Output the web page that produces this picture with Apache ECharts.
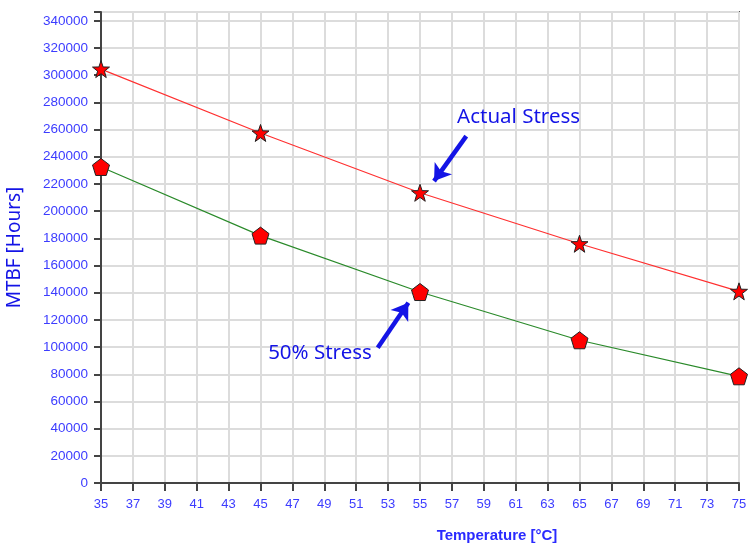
<!DOCTYPE html>
<html lang="en">
<head>
    <meta charset="UTF-8">
    <title>MTBF vs temperature</title>
</head>
<script src="https://cdn.jsdelivr.net/npm/echarts@6/dist/echarts.min.js"></script>
<body style="margin:0">
<div id="main" style="width:752px;height:545px"></div>
<script>
    // data
    var temps = [35, 45, 55, 65, 75];
    var actualStress = [304500, 257500, 213500, 176000, 141000];
    var halfStress = [232500, 182000, 140500, 105000, 78500];

    var starPath = 'path://M10 0 L12.35 6.76 L19.51 6.91 L13.80 11.24 L15.88 18.09 L10 14 L4.12 18.09 L6.20 11.24 L0.49 6.91 L7.65 6.76 Z';
    var pentPath = 'path://M10 0 L19.51 6.91 L15.88 18.09 L4.12 18.09 L0.49 6.91 Z';

    function pairs(xs, ys) {
        return xs.map(function (x, i) { return [x, ys[i]]; });
    }

    var blue = '#1414e6';
    var tickBlue = '#3c3cff';

    var myChart = echarts.init(document.getElementById('main'));
    myChart.setOption({
        animation: false,
        grid: {
            left: 101, right: 13, top: 12, bottom: 62,
            outerBoundsMode: 'none',
            containLabel: false,
            show: true, borderColor: '#555', borderWidth: 2
        },
        xAxis: {
            type: 'value',
            min: 35, max: 75, interval: 2,
            name: 'Temperature [°C]',
            nameLocation: 'middle',
            nameGap: 45,
            nameTextStyle: {
                color: '#2a2aff', fontFamily: 'Liberation Sans', fontWeight: 'bold',
                fontSize: 15, padding: [0, 0, 0, 154]
            },
            axisLine: { lineStyle: { color: '#444', width: 2 } },
            axisTick: { length: 8, lineStyle: { color: '#444', width: 2 } },
            axisLabel: { color: tickBlue, fontFamily: 'Liberation Sans', fontSize: 13, margin: 15 },
            splitLine: { lineStyle: { color: '#dcdcdc', width: 2 } }
        },
        yAxis: {
            type: 'value',
            min: 0, max: 346500, interval: 20000,
            name: 'MTBF [Hours]',
            nameLocation: 'middle',
            nameGap: 77,
            nameTextStyle: { color: blue, fontFamily: 'Noto Sans', fontSize: 19 },
            axisLine: { show: true, lineStyle: { color: '#444', width: 2 } },
            axisTick: { show: true, length: 7, lineStyle: { color: '#444', width: 2 } },
            axisLabel: {
                color: tickBlue, fontFamily: 'Liberation Sans', fontSize: 13.5, margin: 13,
                formatter: function (v) { return v % 20000 === 0 ? String(v) : ''; }
            },
            splitLine: { lineStyle: { color: '#dcdcdc', width: 2 } }
        },
        series: [{
            name: 'Actual Stress',
            type: 'line',
            data: pairs(temps, actualStress),
            symbol: starPath,
            symbolSize: 17,
            itemStyle: { color: '#ff0000', borderColor: '#222', borderWidth: 1 },
            lineStyle: { color: '#ff3030', width: 1.2 },
            z: 3,
            markPoint: {
                symbol: 'circle', symbolSize: 0,
                label: { show: true, color: blue, fontFamily: 'Noto Sans', fontSize: 20.5, formatter: 'Actual Stress' },
                data: [{ coord: [61.18, 269200] }]
            },
            markLine: {
                silent: true,
                symbol: ['none', 'arrow'],
                symbolSize: [16, 16],
                label: { show: false },
                lineStyle: { color: blue, width: 4.5, type: 'solid' },
                data: [[{ coord: [57.9, 255200] }, { coord: [55.88, 222100] }]]
            }
        }, {
            name: '50% Stress',
            type: 'line',
            data: pairs(temps, halfStress),
            symbol: pentPath,
            symbolSize: 17,
            itemStyle: { color: '#ff0000', borderColor: '#222', borderWidth: 1 },
            lineStyle: { color: '#2a8a2a', width: 1.2 },
            z: 3,
            markPoint: {
                symbol: 'circle', symbolSize: 0,
                label: { show: true, color: blue, fontFamily: 'Noto Sans', fontSize: 20.5, formatter: '50% Stress' },
                data: [{ coord: [48.73, 95600] }]
            },
            markLine: {
                silent: true,
                symbol: ['none', 'arrow'],
                symbolSize: [16, 16],
                label: { show: false },
                lineStyle: { color: blue, width: 4.5, type: 'solid' },
                data: [[{ coord: [52.35, 99500] }, { coord: [54.27, 132600] }]]
            }
        }]
    });
</script>
</body>
</html>
